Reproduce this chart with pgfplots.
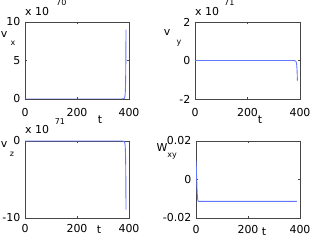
\documentclass[border=0pt]{standalone}
\usepackage{pgfplots}
\pgfplotsset{compat=1.18}
\usepackage{fontspec}
\setmainfont{DejaVu Sans}
\definecolor{lineblue}{RGB}{100,120,255}
\definecolor{axgray}{RGB}{70,70,70}
\pgfplotsset{
  panel/.style={
    scale only axis, anchor=south west, width=104bp, height=77bp,
    xmin=0, xmax=400, xtick={0,200,400},
    tick align=inside, major tick length=2bp,
    axis line style={axgray, line width=0.6bp},
    every tick/.style={axgray, line width=0.5bp},
    ticklabel style={font=\fontsize{11}{13}\selectfont},
    /pgf/number format/assume math mode=true,
    scaled y ticks=false, scaled x ticks=false,
    xticklabel style={anchor=center},
    yticklabel shift=1.2bp,
  },
  blueline/.style={color=lineblue, line width=0.9bp, mark=none},
}
\begin{document}
\begin{tikzpicture}[x=1bp,y=1bp]
\useasboundingbox (0,0) rectangle (317,243);
\tikzset{lab/.style={font=\fontsize{11}{13}\selectfont, inner sep=0pt},
         sub/.style={font=\fontsize{8}{9}\selectfont, inner sep=0pt}}
% Panel 1: v_x
\begin{axis}[panel, at={(25bp,144bp)}, ymin=0, ymax=10, ytick={0,5,10},
  xticklabel style={yshift=-14bp}]
\addplot[blueline] coordinates {(0,0) (100,0) (200,0) (300,0) (370,0) (378,0.02) (382,0.1) (384,0.3) (385.5,0.7) (386.5,1.5) (387.3,3) (387.8,5) (388.2,7) (388.5,9)};
\end{axis}
% Panel 2: v_y
\begin{axis}[panel, at={(195bp,144bp)}, width=105bp, ymin=-2, ymax=2, ytick={-2,0,2},
  xticklabel style={yshift=-14bp}]
\addplot[blueline] coordinates {(0,0) (100,0) (200,0) (300,0) (375,0) (380,-0.01) (384,-0.04) (386.5,-0.12) (388,-0.3) (389.2,-0.6) (390,-1.05)};
\end{axis}
% Panel 3: v_z
\begin{axis}[panel, at={(25bp,25bp)}, ymin=-10, ymax=0, ytick={-10,0},
  xticklabel style={yshift=-11bp}]
\addplot[blueline] coordinates {(0,0) (100,0) (200,0) (300,0) (370,0) (378,-0.02) (382,-0.1) (384,-0.3) (385.5,-0.7) (386.5,-1.5) (387.3,-3) (387.8,-5) (388.2,-7) (388.5,-8.9)};
\end{axis}
% Panel 4: W_xy
\begin{axis}[panel, at={(196bp,25bp)}, ymin=-0.02, ymax=0.02, ytick={-0.02,0,0.02},
  yticklabels={-0.02,0,0.02}, xticklabel style={yshift=-12bp}]
\addplot[blueline] coordinates {(0,0.0098) (1,0.007) (2,0.003) (3,-0.001) (4,-0.005) (5,-0.008) (6,-0.0098) (7,-0.0108) (8,-0.0112) (10,-0.0114) (20,-0.0114) (100,-0.0114) (200,-0.0114) (300,-0.0114) (388,-0.0114)};
\end{axis}
% exponent labels
\node[lab, anchor=west] at (25,231) {x 10};
\node[sub, anchor=south west] at (56,237) {70};
\node[lab, anchor=west] at (195,231) {x 10};
\node[sub, anchor=south west] at (224,237) {71};
\node[lab, anchor=west] at (25,113) {x 10};
\node[sub, anchor=center] at (60,121) {71};
% y labels
\node[lab] at (4,208) {v};
\node[sub] at (13,200) {x};
\node[lab] at (167,210) {v};
\node[sub] at (179,200) {y};
\node[lab] at (4,98) {v};
\node[sub] at (12,89) {z};
\node[lab] at (162,95) {W};
\node[sub] at (172,87) {xy};
% t labels
\node[lab] at (100,123) {t};
\node[lab] at (260,123) {t};
\node[lab] at (99,13) {t};
\node[lab] at (264,11) {t};
\end{tikzpicture}
\end{document}
